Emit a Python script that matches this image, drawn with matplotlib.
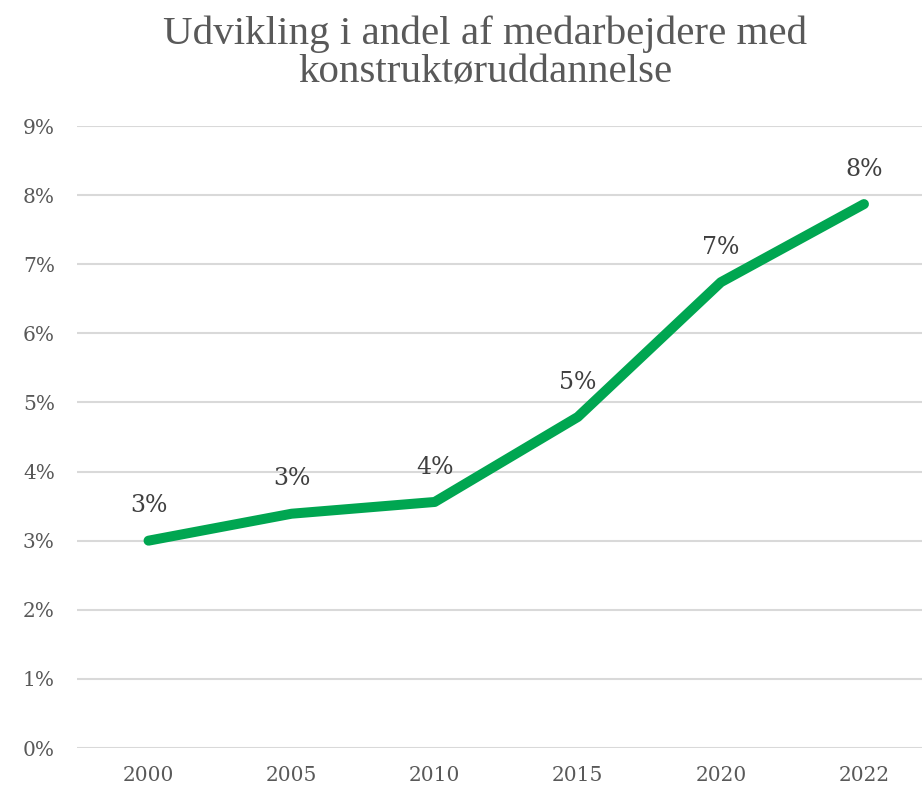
import matplotlib.pyplot as plt
from matplotlib.ticker import FuncFormatter

# Data
years = ['2000', '2005', '2010', '2015', '2020', '2022']
share = [0.030, 0.0339, 0.0356, 0.0479, 0.0674, 0.0787]
yticks = [0.00, 0.01, 0.02, 0.03, 0.04, 0.05, 0.06, 0.07, 0.08, 0.09]
title_lines = ['Udvikling i andel af medarbejdere med', 'konstruktøruddannelse']

line_color = '#00A651'
text_color = '#595959'
grid_color = '#D9D9D9'

fig = plt.figure(figsize=(9.22, 7.85), dpi=100)
ax = fig.add_axes([77 / 922, 37 / 785, 858.5 / 922, 622 / 785])

x = list(range(len(years)))
ax.plot(x, share, color=line_color, linewidth=7.2, solid_capstyle='round',
        solid_joinstyle='round', zorder=3)

# Data labels
for xi, v in zip(x, share):
    ax.annotate(f'{v * 100:.0f}%', (xi, v), xytext=(0, 25), textcoords='offset points',
                ha='center', va='center', fontsize=17, color='#404040',
                family='DejaVu Serif')

ax.set_xlim(-0.5, 5.5)
ax.set_ylim(0, 0.09)
ax.set_yticks(yticks)
ax.yaxis.set_major_formatter(FuncFormatter(lambda v, p: f'{v * 100:.0f}%'))
ax.set_xticks(x)
ax.set_xticklabels(years)

for lab in ax.get_xticklabels() + ax.get_yticklabels():
    lab.set_family('DejaVu Serif')
    lab.set_fontsize(14.5)
    lab.set_color(text_color)

ax.tick_params(axis='both', length=0)
ax.tick_params(axis='x', pad=13)
ax.tick_params(axis='y', pad=16)

ax.grid(axis='y', color=grid_color, linewidth=1.5)
ax.set_axisbelow(True)
for s in ax.spines.values():
    s.set_visible(False)

# Title, one text per line so each baseline sits where it should
for line, base in zip(title_lines, [44, 82]):
    fig.text(485 / 922, 1 - base / 785, line, ha='center', va='baseline',
             fontsize=29.5, color=text_color, family='Liberation Serif')

fig.savefig('out.png', dpi=100)
